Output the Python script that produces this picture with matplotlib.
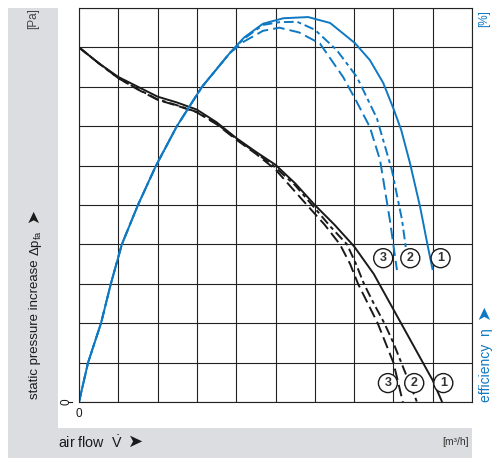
import numpy as np
import matplotlib
matplotlib.use("Agg")
from matplotlib import pyplot as plt
from matplotlib.patches import Rectangle

# ---------- data (grid units, 10 x 10 grid) ----------
# static pressure curves (black)
p1_x = [0, 0.5, 1.0, 1.5, 2.0, 2.5, 3.0, 3.5, 4.0, 4.5, 5.0, 5.5, 6.0, 6.5, 7.0, 7.5, 8.0, 8.5, 9.0, 9.24]
p1_y = [9.0, 8.6, 8.25, 8.0, 7.75, 7.6, 7.42, 7.1, 6.7, 6.35, 6.02, 5.55, 5.0, 4.5, 3.95, 3.25, 2.35, 1.45, 0.55, 0]
p2_x = [0, 0.5, 1.0, 1.5, 2.0, 2.5, 3.0, 3.5, 4.0, 4.5, 5.0, 5.5, 5.93, 6.4, 6.82, 7.05, 7.25, 7.5, 7.77, 8.0, 8.2, 8.4, 8.6]
p2_y = [9.0, 8.6, 8.22, 7.94, 7.68, 7.53, 7.36, 7.07, 6.68, 6.33, 5.95, 5.5, 5.0, 4.45, 4.0, 3.5, 3.0, 2.5, 2.0, 1.5, 1.0, 0.5, 0]
p3_x = [0, 0.5, 1.0, 1.5, 2.0, 2.5, 3.0, 3.5, 4.0, 4.5, 5.0, 5.4, 5.8, 6.25, 6.64, 6.9, 7.1, 7.35, 7.6, 7.8, 8.0, 8.12, 8.24]
p3_y = [9.0, 8.6, 8.22, 7.93, 7.67, 7.52, 7.35, 7.05, 6.66, 6.3, 5.9, 5.45, 5.0, 4.5, 4.0, 3.5, 3.0, 2.5, 2.0, 1.5, 1.0, 0.5, 0]

# efficiency curves (blue)
rise_x = [0, 0.23, 0.56, 0.81, 1.09, 1.5, 1.96, 2.49, 3.13, 3.84]
rise_y = [0, 1.0, 2.0, 3.0, 4.0, 5.0, 6.0, 7.0, 8.0, 8.86]
e1_x = rise_x + [4.2, 4.68, 5.2, 5.83, 6.39, 7.02, 7.4, 7.74, 8.0, 8.2, 8.42, 8.68, 8.88, 9.0]
e1_y = rise_y + [9.25, 9.6, 9.74, 9.77, 9.62, 9.11, 8.68, 8.1, 7.45, 6.9, 6.07, 4.95, 3.93, 3.35]
e2_x = rise_x + [4.2, 4.68, 5.1, 5.55, 6.0, 6.56, 7.07, 7.58, 7.96, 8.22, 8.4]
e2_y = rise_y + [9.22, 9.57, 9.64, 9.65, 9.45, 8.93, 8.25, 7.2, 5.89, 4.62, 3.3]
e3_x = rise_x + [4.2, 4.68, 5.1, 5.6, 6.13, 6.72, 7.05, 7.4, 7.66, 7.91, 8.09]
e3_y = rise_y + [9.15, 9.42, 9.5, 9.38, 9.1, 8.25, 7.65, 6.98, 6.14, 4.62, 3.35]

# curve labels
lab_names = ['3', '2', '1']
lab_eff_x = [7.74, 8.43, 9.2]
lab_eff_y = [3.65, 3.65, 3.65]
lab_p_x = [7.86, 8.53, 9.27]
lab_p_y = [0.48, 0.48, 0.48]

BLUE = '#0f78c3'
BLACK = '#1a1a1a'
GRAY = '#dcdde0'

plt.rcParams['font.family'] = ['Liberation Sans', 'DejaVu Sans']
plt.rcParams['mathtext.fontset'] = 'custom'
plt.rcParams['mathtext.rm'] = 'Liberation Sans'
plt.rcParams['mathtext.it'] = 'Liberation Sans'
big = 9.5

W, H = 501, 462
fig = plt.figure(figsize=(W / 100, H / 100), dpi=100)

def fx(px):
    return px / W

def fy(py):
    return 1 - py / H

# gray panels
fig.patches.append(Rectangle((fx(8), fy(458)), 50 / W, 450 / H, transform=fig.transFigure,
                             facecolor=GRAY, edgecolor='none', zorder=0))
fig.patches.append(Rectangle((fx(8), fy(458)), 464 / W, 30 / H, transform=fig.transFigure,
                             facecolor=GRAY, edgecolor='none', zorder=0))

ax = fig.add_axes([fx(79), fy(402), 393 / W, 394 / H])
ax.set_xlim(0, 10)
ax.set_ylim(0, 10)
ax.set_xticks(np.arange(0, 11))
ax.set_yticks(np.arange(0, 11))
ax.tick_params(length=0, labelbottom=False, labelleft=False)
ax.grid(True, color='#222222', lw=0.8)
for s in ax.spines.values():
    s.set_color('#222222')
    s.set_linewidth(0.8)

lw = 1.4
ax.plot(p1_x, p1_y, color=BLACK, lw=lw, solid_capstyle='butt')
ax.plot(p2_x, p2_y, color=BLACK, lw=lw, dashes=(5, 2, 2, 2))
ax.plot(p3_x, p3_y, color=BLACK, lw=lw, dashes=(6, 2.6))
ax.plot(e1_x, e1_y, color=BLUE, lw=lw, solid_capstyle='butt')
ax.plot(e2_x, e2_y, color=BLUE, lw=lw, dashes=(5, 2, 2, 2))
ax.plot(e3_x, e3_y, color=BLUE, lw=lw, dashes=(6, 2.6))

for i in range(3):
    for xx, yy in [(lab_eff_x[i], lab_eff_y[i]), (lab_p_x[i], lab_p_y[i])]:
        ax.text(xx, yy, lab_names[i], ha='center', va='center', fontsize=9,
                fontweight='bold', color='#333333',
                bbox=dict(boxstyle='circle,pad=0.28', fc='white', ec=BLACK, lw=1.0))

# axis texts
fig.text(fx(33), fy(19), '[Pa]', rotation=90, ha='center', va='center',
         fontsize=8.5, color='#444444')
fig.text(fx(35), fy(399), 'static pressure increase', rotation=90, ha='center', va='bottom',
         fontsize=big, color=BLACK)
fig.text(fx(36), fy(256), r'$\Delta\mathrm{p}_{\mathrm{fa}}$', rotation=90, ha='center', va='bottom',
         fontsize=big, color=BLACK)
fig.text(fx(33), fy(216), '\u27a4', rotation=90, ha='center', va='center',
         fontsize=12, color=BLACK, family=['DejaVu Sans'])
fig.text(fx(66), fy(402), '0', rotation=90, ha='center', va='center',
         fontsize=8.5, color=BLACK)
fig.lines.append(plt.Line2D([fx(68), fx(72)], [fy(402), fy(402)], transform=fig.transFigure,
                            color=BLACK, lw=0.8))
fig.text(fx(79), fy(414), '0', ha='center', va='center', fontsize=8.5, color=BLACK)

fig.text(fx(58), fy(448), r'air flow  $\dot{\mathrm{V}}$', ha='left', va='baseline',
         fontsize=10.3, color=BLACK)
fig.text(fx(136), fy(442), '\u27a4', ha='center', va='center',
         fontsize=13, color=BLACK, family=['DejaVu Sans'])
fig.text(fx(469), fy(442), '[m\u00b3/h]', ha='right', va='center',
         fontsize=7.5, color='#333333')

fig.text(fx(484), fy(19), '[%]', rotation=90, ha='center', va='center',
         fontsize=8.5, color=BLUE)
fig.text(fx(486), fy(402), 'efficiency  \u03b7', rotation=90, ha='center', va='bottom',
         fontsize=10, color=BLUE)
fig.text(fx(484), fy(311), '\u27a4', rotation=90, ha='center', va='center',
         fontsize=13, color=BLUE, family=['DejaVu Sans'])

fig.savefig('out.png', dpi=100)
